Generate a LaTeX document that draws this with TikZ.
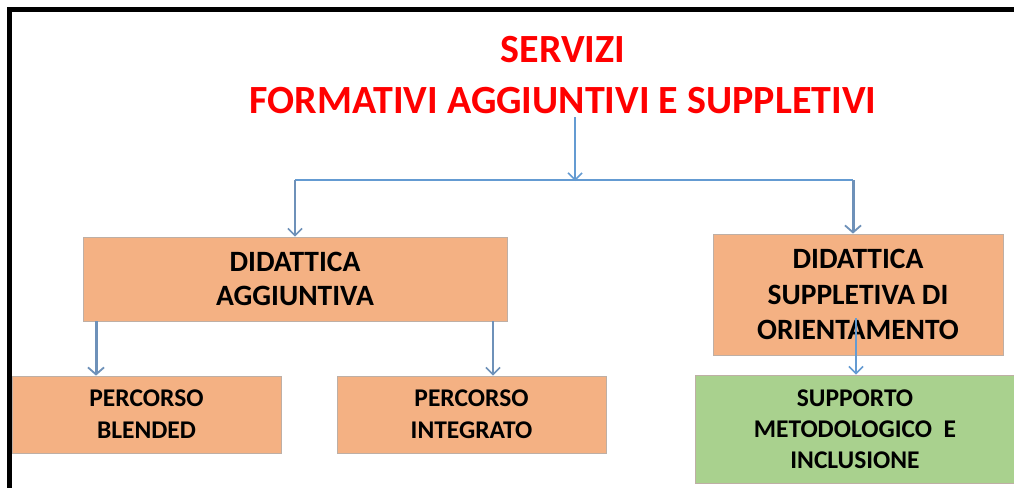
\documentclass[tikz,border=0pt]{standalone}
\usepackage{fontspec}
\setmainfont{Carlito}
\usetikzlibrary{arrows.meta}
\definecolor{boxorange}{RGB}{244,177,131}
\definecolor{boxgreen}{RGB}{169,209,142}
\definecolor{boxedge}{RGB}{190,175,165}
\definecolor{arrblue}{RGB}{100,155,210}
\definecolor{arrgrey}{RGB}{110,145,185}
\definecolor{titlered}{RGB}{255,0,0}
\tikzset{
  box/.style={draw=boxedge, line width=0.8pt, fill=boxorange, inner sep=0pt, align=center, font=\bfseries\fontsize{29.5}{33.5}\selectfont},
  smallbox/.style={box, font=\bfseries\fontsize{25.5}{32}\selectfont},
  arr/.style={draw=arrblue, line width=1.6pt, -{Straight Barb[length=7pt,width=14pt,line width=1.6pt]}},
  thickarr/.style={draw=arrgrey, line width=3pt, -{Straight Barb[length=7pt,width=16pt,line width=1.8pt]}},
  link/.style={draw=arrblue, line width=2.2pt},
}
\begin{document}
\begin{tikzpicture}[x=1pt,y=-1pt]
\useasboundingbox (0,0) rectangle (1014,488);
\fill[white] (0,0) rectangle (1014,488);
% frame
\fill[black] (7,7) rectangle (1014,12);
\fill[black] (7,7) rectangle (12,488);
% title
\node[text=titlered, font=\bfseries\fontsize{40}{51}\selectfont, align=center, inner sep=0pt, anchor=base] (title) at (563,113) {SERVIZI\\FORMATIVI AGGIUNTIVI E SUPPLETIVI};
% boxes
\node[box, minimum width=424pt, minimum height=84pt] (da) at (295,279) {DIDATTICA\\AGGIUNTIVA};
\node[box, font=\bfseries\fontsize{29.5}{35.5}\selectfont, minimum width=290pt, minimum height=121pt] (ds) at (858,294.5) {DIDATTICA\\SUPPLETIVA DI\\ORIENTAMENTO};
\node[smallbox, minimum width=269pt, minimum height=77pt] (bl) at (146.5,414.5) {PERCORSO\\BLENDED};
\node[smallbox, minimum width=269pt, minimum height=77pt] (in) at (471.5,414.5) {PERCORSO\\INTEGRATO};
\node[smallbox, font=\bfseries\fontsize{25.5}{31}\selectfont, fill=boxgreen, minimum width=319pt, minimum height=108pt] (sm) at (855,429) {SUPPORTO\\METODOLOGICO\ \ E\\INCLUSIONE};
% connectors
\coordinate (ts) at (575,117);
\coordinate (jm) at (575,181);
\coordinate (jl) at (295,180);
\coordinate (jr) at (853,180);
\draw[link] (jl) -- (jr);
\draw[arr] (ts) -- (jm);
\draw[arr, draw=arrgrey] (jl) -- (jl |- da.north);
\draw[thickarr] (jr) -- (jr |- ds.north);
\coordinate (a1) at (96,321);
\coordinate (a2) at (493,321);
\coordinate (a3) at (856,318);
\draw[thickarr] (a1) -- (a1 |- bl.north);
\draw[arr, draw=arrgrey] (a2) -- (a2 |- in.north);
\draw[arr] (a3) -- (a3 |- sm.north);
\end{tikzpicture}
\end{document}
